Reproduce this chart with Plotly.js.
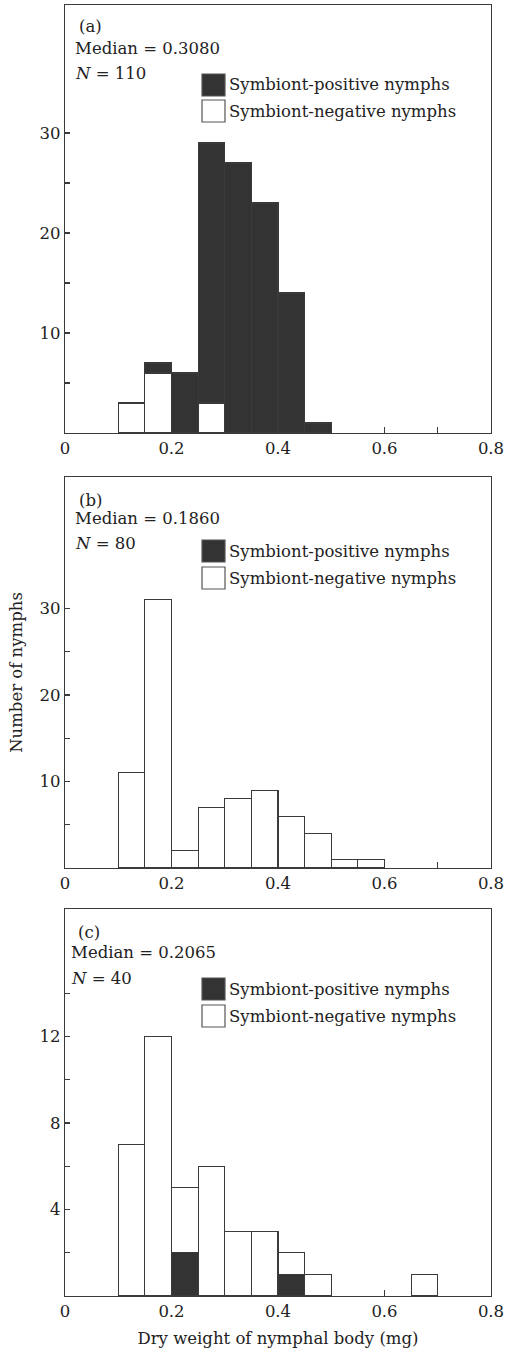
<!DOCTYPE html>
<html>
<head>
<meta charset="utf-8">
<script src="https://cdn.plot.ly/plotly-3.0.1.min.js"></script>
<style>html,body{margin:0;padding:0;background:#fff;}#chart{width:507px;height:1348px;}</style>
</head>
<body>
<div id="chart"></div>
<script>
// ---- data (bin left edges, width 0.05 mg) ----
const binStarts = [0.10,0.15,0.20,0.25,0.30,0.35,0.40,0.45,0.50,0.55,0.60,0.65];
const binWidth = 0.05;
const posA = [0,1,6,26,27,23,14,1,0,0,0,0];
const negA = [3,6,0,3,0,0,0,0,0,0,0,0];
const posB = [0,0,0,0,0,0,0,0,0,0,0,0];
const negB = [11,31,2,7,8,9,6,4,1,1,0,0];
const posC = [0,0,2,0,0,0,1,0,0,0,0,0];
const negC = [7,12,3,6,3,3,1,1,0,0,0,1];
const panelLabels = ["(a)","(b)","(c)"];
const medians = ["0.3080","0.1860","0.2065"];
const counts = ["110","80","40"];
const seriesNames = ["Symbiont-positive nymphs","Symbiont-negative nymphs"];
const xTickVals = [0,0.2,0.4,0.6,0.8];
const xTickText = ["0","0.2","0.4","0.6","0.8"];
const xMinorVals = [0.1,0.3,0.5,0.7];
const yTicksA = [10,20,30], yMinorA = [5,15,25];
const yTicksB = [10,20,30], yMinorB = [5,15,25];
const yTicksC = [4,8,12], yMinorC = [2,6,10,14];
const xTitle = "Dry weight of nymphal body (mg)";
const yTitle = "Number of nymphs";

// ---- styling ----
const W = 507, H = 1348;
const FONT = "DejaVu Serif";
const FS = 16.5;
const DARK = "#333333";
const LINE = "#3a3a3a";
const px = v => v / W;
const py = v => 1 - v / H;

function barTrace(vals, name, fill, xa, ya) {
  const xs = [], ys = [];
  vals.forEach((v, i) => { if (v > 0) { xs.push(binStarts[i]); ys.push(v); } });
  return {
    type: "bar", x: xs, y: ys, name: name,
    width: binWidth, offset: 0,
    marker: {color: fill, line: {color: LINE, width: 1.1}},
    xaxis: xa, yaxis: ya, showlegend: false, hoverinfo: "x+y+name"
  };
}

const traces = [
  barTrace(negA, seriesNames[1], "#ffffff", "x", "y"),
  barTrace(posA, seriesNames[0], DARK, "x", "y"),
  barTrace(posB, seriesNames[0], DARK, "x2", "y2"),
  barTrace(negB, seriesNames[1], "#ffffff", "x2", "y2"),
  barTrace(posC, seriesNames[0], DARK, "x3", "y3"),
  barTrace(negC, seriesNames[1], "#ffffff", "x3", "y3")
];

const xDomain = [px(65), px(491)];
const yDomains = [[py(433), py(5)], [py(868), py(477)], [py(1296), py(909)]];
const yRanges = [[0, 42.8], [0, 45.2], [0, 17.9]];
const yMajor = [yTicksA, yTicksB, yTicksC];
const yMinor = [yMinorA, yMinorB, yMinorC];

const tickFont = {family: FONT, size: FS, color: "#222"};

function xAxis(i) {
  return {
    domain: xDomain, range: [0, 0.8], anchor: i === 0 ? "y" : "y" + (i + 1),
    showline: true, linecolor: LINE, linewidth: 1.3, mirror: true,
    showgrid: false, zeroline: false,
    ticks: "inside", ticklen: 6, tickcolor: LINE, tickwidth: 1.1,
    tickmode: "array", tickvals: xTickVals, ticktext: xTickText,
    tickfont: tickFont, automargin: false, fixedrange: true,
    minor: {tickmode: "array", tickvals: xMinorVals, ticks: "inside", ticklen: 6, tickcolor: LINE, tickwidth: 1.1, showgrid: false}
  };
}
function yAxis(i) {
  return {
    domain: yDomains[i], range: yRanges[i], anchor: i === 0 ? "x" : "x" + (i + 1),
    showline: true, linecolor: LINE, linewidth: 1.3, mirror: true,
    showgrid: false, zeroline: false,
    ticks: "inside", ticklen: 5, tickcolor: LINE, tickwidth: 1.1,
    tickmode: "array", tickvals: yMajor[i], ticktext: yMajor[i].map(String),
    tickfont: tickFont, automargin: false, fixedrange: true,
    minor: {tickmode: "array", tickvals: yMinor[i], ticks: "inside", ticklen: 5, tickcolor: LINE, tickwidth: 1.1, showgrid: false}
  };
}

const layout = {
  width: W, height: H, autosize: false,
  margin: {l: 0, r: 0, t: 0, b: 0, pad: 0},
  paper_bgcolor: "#fff", plot_bgcolor: "#fff",
  barmode: "stack", bargap: 0,
  font: {family: FONT, size: FS, color: "#222"},
  showlegend: false,
  xaxis: xAxis(0), xaxis2: xAxis(1), xaxis3: xAxis(2),
  yaxis: yAxis(0), yaxis2: yAxis(1), yaxis3: yAxis(2),
  shapes: [], annotations: []
};
layout.xaxis3.title = {text: xTitle, font: {family: FONT, size: FS, color: "#222"}};
layout.yaxis2.title = {text: yTitle, font: {family: FONT, size: FS, color: "#222"}};

// text blocks & custom legends per panel (pixel positions)
const textPos = [
  {lab: [77, 27], med: [73, 49], n: [73, 74], sw: [74, 100]},
  {lab: [77, 500], med: [73, 519], n: [73, 544], sw: [540, 567]},
  {lab: [76, 932], med: [69, 952], n: [69, 978], sw: [978, 1005]}
];
textPos.forEach((t, i) => {
  const ann = (x, y, text) => ({
    xref: "paper", yref: "paper", x: px(x), y: py(y), text: text,
    showarrow: false, xanchor: "left", yanchor: "middle",
    font: {family: FONT, size: FS, color: "#222"}
  });
  layout.annotations.push(ann(t.lab[0], t.lab[1], panelLabels[i]));
  layout.annotations.push(ann(t.med[0], t.med[1], "Median = " + medians[i]));
  layout.annotations.push(ann(t.n[0], t.n[1], "<i>N</i> = " + counts[i]));
  const fills = [DARK, "#ffffff"];
  t.sw.forEach((top, k) => {
    layout.shapes.push({
      type: "rect", xref: "paper", yref: "paper",
      x0: px(202), x1: px(225), y0: py(top + 22), y1: py(top),
      fillcolor: fills[k], line: {color: "#555", width: 1.2}
    });
    layout.annotations.push(ann(227, top + 11, seriesNames[k]));
  });
});

Plotly.newPlot("chart", traces, layout, {staticPlot: true, displayModeBar: false});
</script>
</body>
</html>
